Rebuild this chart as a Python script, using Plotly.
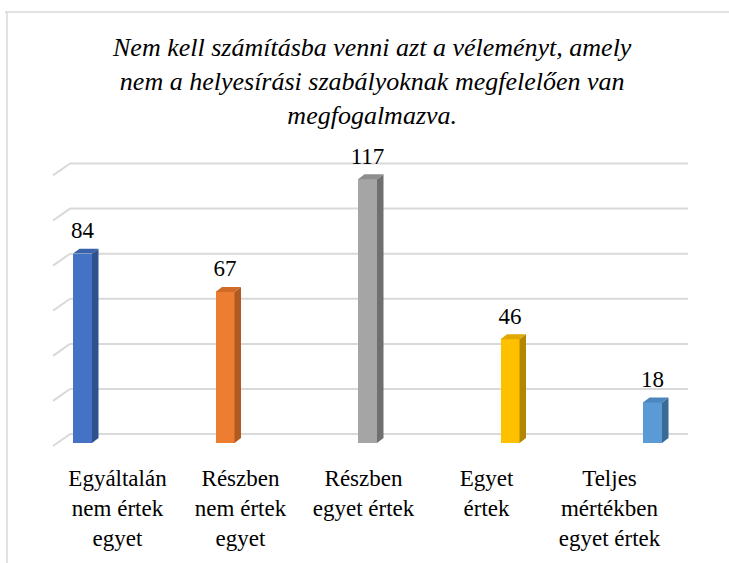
import plotly.graph_objects as go

# --- Data ---
categories = [
    "Egyáltalán<br>nem értek<br>egyet",
    "Részben<br>nem értek<br>egyet",
    "Részben<br>egyet értek",
    "Egyet<br>értek",
    "Teljes<br>mértékben<br>egyet értek",
]
values = [84, 67, 117, 46, 18]
grid_values = [0, 20, 40, 60, 80, 100, 120]
title_text = ("Nem kell számításba venni azt a véleményt, amely<br>"
              "nem a helyesírási szabályoknak megfelelően van<br>"
              "megfogalmazva.")

front_colors = ["#4472C4", "#ED7D31", "#A5A5A5", "#FFC000", "#5B9BD5"]
side_colors = ["#2F528F", "#AE5A21", "#6F6F6F", "#B38600", "#3A6A96"]
top_colors = ["#3A62AA", "#D06A27", "#8E8E8E", "#E0A800", "#4C86BC"]

# --- Geometry (pixels -> data units) ---
W, H = 729, 563
M_L, M_R, M_T, M_B = 40, 20, 150, 113
BAR0_PX, BAR_STEP_PX = 82.5, 142.5   # front-plane bar centres
ZERO_PX, PX_PER_UNIT = 445, 2.27     # front-plane value scale
LBL0_PX, LBL_STEP_PX = 117.5, 123.0  # category labels on the floor edge


def px_x(p):
    return (p - BAR0_PX) / BAR_STEP_PX


def px_y(p):
    return (ZERO_PX - p) / PX_PER_UNIT


x_range = [px_x(M_L), px_x(W - M_R)]
y_range = [px_y(H - M_B), px_y(M_T)]
x2_range = [(M_L - LBL0_PX) / LBL_STEP_PX, (W - M_R - LBL0_PX) / LBL_STEP_PX]

bar_w = 19 / BAR_STEP_PX
dep_x = 6.5 / BAR_STEP_PX
dep_y = 5 / PX_PER_UNIT
back_dy = 9 / PX_PER_UNIT
diag_drop = 12 / PX_PER_UNIT
x_front_left, x_back_left, x_right = px_x(53), px_x(70), px_x(688)
GRID = "#D9D9D9"

fig = go.Figure()
xs = list(range(len(values)))

# front faces
fig.add_trace(go.Bar(
    x=xs, y=values, width=bar_w,
    marker=dict(color=front_colors, line=dict(width=0)),
    hoverinfo="skip", showlegend=False,
))

# side and top faces
for i, v in enumerate(values):
    xl, xr = i - bar_w / 2, i + bar_w / 2
    fig.add_trace(go.Scatter(
        x=[xr, xr + dep_x, xr + dep_x, xr, xr],
        y=[0, dep_y, v + dep_y, v, 0],
        fill="toself", fillcolor=side_colors[i], mode="lines",
        line=dict(width=0, color=side_colors[i]),
        hoverinfo="skip", showlegend=False,
    ))
    fig.add_trace(go.Scatter(
        x=[xl, xl + dep_x, xr + dep_x, xr, xl],
        y=[v, v + dep_y, v + dep_y, v, v],
        fill="toself", fillcolor=top_colors[i], mode="lines",
        line=dict(width=0, color=top_colors[i]),
        hoverinfo="skip", showlegend=False,
    ))

# value labels
fig.add_trace(go.Scatter(
    x=xs, y=[v + 10 / PX_PER_UNIT for v in values],
    mode="text", text=[str(v) for v in values], textposition="top center",
    textfont=dict(family="Liberation Serif", size=23, color="#000000"),
    hoverinfo="skip", showlegend=False, cliponaxis=False,
))

# category labels on the second x axis
fig.add_trace(go.Scatter(
    x=xs, y=[0] * len(xs), xaxis="x2", mode="markers",
    marker=dict(opacity=0), hoverinfo="skip", showlegend=False,
))

# back wall gridlines + left wall diagonals
for g in grid_values:
    fig.add_shape(type="line", layer="below", xref="x", yref="y",
                  x0=x_back_left, x1=x_right, y0=g + back_dy, y1=g + back_dy,
                  line=dict(color=GRID, width=2))
    fig.add_shape(type="line", layer="below", xref="x", yref="y",
                  x0=x_front_left, x1=x_back_left,
                  y0=g + back_dy - diag_drop, y1=g + back_dy,
                  line=dict(color=GRID, width=2))

# chart frame (top and left edges visible)
pw, ph = W - M_L - M_R, H - M_T - M_B
fig.add_shape(type="line", xref="paper", yref="paper",
              x0=(5 - M_L) / pw, x1=(W + 5 - M_L) / pw,
              y0=(H - M_B - 11) / ph, y1=(H - M_B - 11) / ph,
              line=dict(color=GRID, width=1.5))
fig.add_shape(type="line", xref="paper", yref="paper",
              x0=(7 - M_L) / pw, x1=(7 - M_L) / pw,
              y0=(H - M_B - 11) / ph, y1=(-M_B - 5) / ph,
              line=dict(color=GRID, width=1.5))

# title
fig.add_annotation(
    text="<i>" + title_text + "</i>", xref="paper", yref="paper",
    x=(372 - M_L) / pw, y=(H - M_B - 81) / ph, xanchor="center", yanchor="middle",
    showarrow=False, align="center",
    font=dict(family="Liberation Serif", size=26, color="#000000"),
)

fig.update_layout(
    width=W, height=H,
    xaxis=dict(range=x_range, showticklabels=False, showgrid=False,
               zeroline=False, showline=False, fixedrange=True),
    xaxis2=dict(range=x2_range, overlaying="x", side="bottom",
                tickmode="array", tickvals=xs, ticktext=categories,
                tickfont=dict(family="Liberation Serif", size=23, color="#000000"),
                ticks="", ticklabelstandoff=14, showgrid=False, zeroline=False,
                showline=False, fixedrange=True),
    yaxis=dict(range=y_range, showticklabels=False, showgrid=False,
               zeroline=False, showline=False, fixedrange=True),
    bargap=0,
    paper_bgcolor="#FFFFFF",
    plot_bgcolor="#FFFFFF",
    margin=dict(l=M_L, r=M_R, t=M_T, b=M_B),
    showlegend=False,
)

fig.write_html("out.html", config={"displayModeBar": False},
               post_script="document.body.style.margin='0';")
